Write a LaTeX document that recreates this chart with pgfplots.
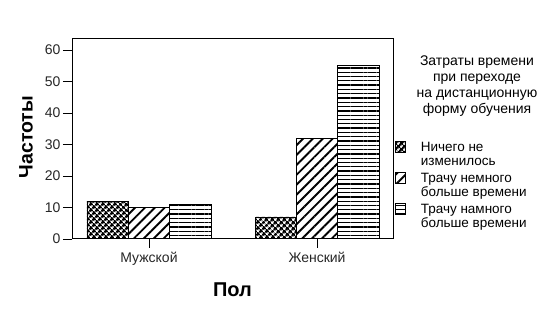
\documentclass[border=0pt]{standalone}
\usepackage{fontspec}
\setmainfont{Liberation Sans}
\usepackage{pgfplots}
\pgfplotsset{compat=1.18}
\usetikzlibrary{patterns.meta}
\begin{document}
\begin{tikzpicture}[x=1pt,y=1pt]
\useasboundingbox (0,0) rectangle (538,313);
\begin{axis}[
  at={(72pt,74pt)}, anchor=south west,
  scale only axis, width=321pt, height=200pt,
  ybar=0pt, bar width=0.246,
  xmin=-0.458, xmax=1.452, ymin=0, ymax=63.5,
  xtick={0,1}, xticklabels={Мужской,Женский},
  ytick={0,10,20,30,40,50,60},
  tick align=outside, tick pos=left,
  major tick length=9pt,
  every tick/.style={black, line width=0.9pt},
  axis line style={black, line width=1pt},
  /pgf/number format/assume math mode=true,
  tick label style={font=\fontsize{14}{15}\selectfont, text=black!85},
  yticklabel style={xshift=1pt},
  xticklabel style={yshift=-1pt},
  xlabel={Пол}, ylabel={Частоты},
  xlabel style={font=\bfseries\fontsize{20}{22}\selectfont, at={(axis description cs:0.50,-0.255)}, anchor=center},
  ylabel style={font=\bfseries\fontsize{19.5}{22}\selectfont, at={(axis description cs:-0.143,0.51)}, anchor=center},
  legend style={at={(axis description cs:1.0,0.49)}, anchor=north west, draw=none, fill=none,
    font=\fontsize{13.5}{14}\selectfont, nodes={align=left, inner sep=1pt},
    row sep=4pt, column sep=14pt, inner xsep=2pt, inner ysep=0pt},
  legend cell align=left,
  legend image code/.code={\draw[#1, line width=0.6pt] (0pt,2pt) rectangle (10pt,13pt);},
]
\addplot[draw=black, line width=0.9pt, pattern={Hatch[angle=45,distance=4pt,line width=1.9pt]}]
  coordinates {(0,12) (1,7)};
\addplot[draw=black, line width=0.9pt, pattern={Lines[angle=45,distance=7pt,line width=1.9pt]}]
  coordinates {(0,10) (1,32)};
\addplot[draw=black, line width=0.9pt, pattern={Lines[angle=0,distance=4.3pt,line width=1.3pt]}]
  coordinates {(0,11) (1,55)};
\legend{Ничего не\\изменилось, Трачу немного\\больше времени, Трачу намного\\больше времени}
\end{axis}
\node[align=center, font=\fontsize{14}{16}\selectfont, anchor=center] at (477,226.5)
  {Затраты времени\\при переходе\\на дистанционную\\форму обучения};
\end{tikzpicture}
\end{document}
